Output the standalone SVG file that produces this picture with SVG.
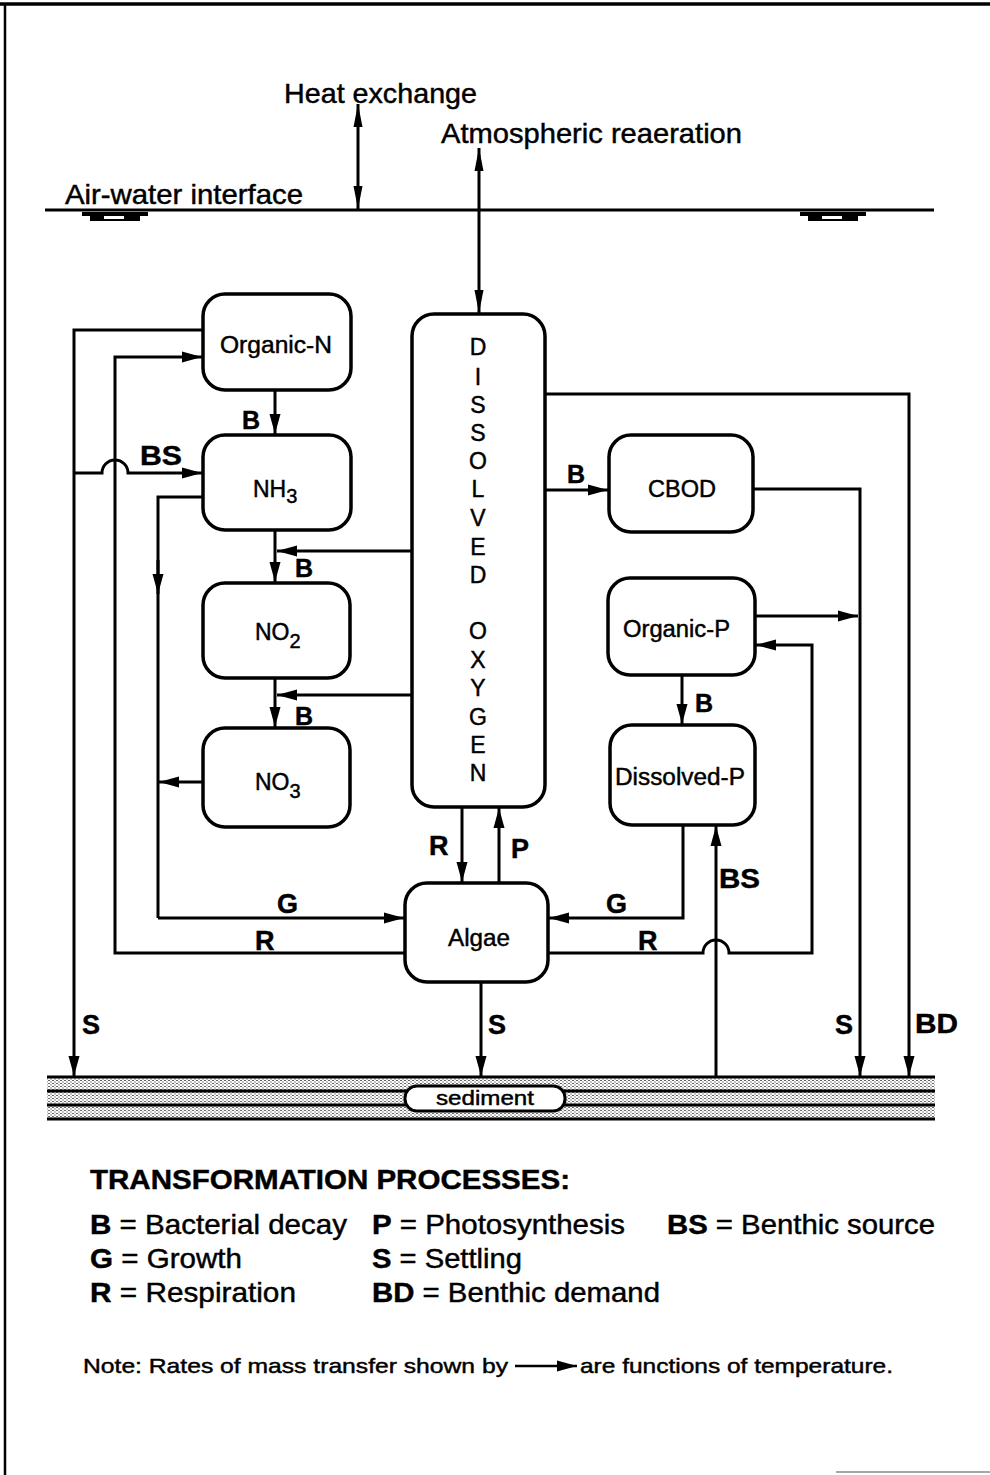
<svg xmlns="http://www.w3.org/2000/svg" width="990" height="1475" viewBox="0 0 990 1475">
<style>
.ln{stroke:#000;stroke-width:3;fill:none}
.ar{stroke:#000;stroke-width:3;fill:none;marker-end:url(#ah)}
.box{fill:#fff;stroke:#000;stroke-width:3.5}
.t{font-family:"Liberation Sans",Arial,Helvetica,sans-serif;fill:#000;stroke:#000;stroke-width:0.45}
.big{font-size:28px}
.nd{font-size:23px}
.do{font-size:23px;text-anchor:middle}
.lb{font-size:27px;font-weight:bold}
.lbs{font-size:25px;font-weight:bold}
.sed{stroke:#000;stroke-width:3.2}
</style>
<defs>
<marker id="ah" markerUnits="userSpaceOnUse" markerWidth="21" markerHeight="12" refX="20" refY="6" orient="auto">
<path d="M0,0.5 L20,6 L0,11.5 Z" fill="#000"/>
</marker>
<marker id="ahn" markerUnits="userSpaceOnUse" markerWidth="24" markerHeight="11" refX="23" refY="5" orient="auto-start-reverse">
<path d="M0,0.5 L23,5 L0,9.5 Z" fill="#000"/>
</marker>
<pattern id="stip" width="4" height="3" patternUnits="userSpaceOnUse">
<rect width="4" height="3" fill="#fff"/>
<rect x="0" y="0" width="2" height="1" fill="#666"/>
<rect x="2" y="1.5" width="2" height="1" fill="#888"/>
</pattern>
</defs>

<!-- frame -->
<g id="frame">
<line x1="0" y1="4" x2="990" y2="4" stroke="#000" stroke-width="3.5"/>
<line x1="5" y1="4" x2="5" y2="1475" stroke="#000" stroke-width="2.5"/>
<line x1="836" y1="1472" x2="990" y2="1472" stroke="#888" stroke-width="1.5"/>
</g>

<!-- surface -->
<g id="surface">
<line x1="45" y1="210" x2="934" y2="210" stroke="#000" stroke-width="3"/>
<path d="M82,212 H148 V216 H140 V221 H90 V216 H82 Z" fill="#000"/>
<rect x="104" y="216" width="20" height="3" fill="#fff"/>
<path d="M800,212 H866 V216 H858 V221 H808 V216 H800 Z" fill="#000"/>
<rect x="822" y="216" width="20" height="3" fill="#fff"/>
<text class="t big" x="65" y="204" textLength="238" lengthAdjust="spacingAndGlyphs">Air-water interface</text>
<text class="t big" x="284" y="103" textLength="193" lengthAdjust="spacingAndGlyphs">Heat exchange</text>
<text class="t big" x="441" y="143" textLength="301" lengthAdjust="spacingAndGlyphs">Atmospheric reaeration</text>
</g>

<!-- sediment -->
<g id="sediment">
<rect x="47" y="1078" width="888" height="41" fill="url(#stip)"/>
<line class="sed" x1="47" y1="1077" x2="935" y2="1077" stroke-width="3.8"/>
<line class="sed" x1="47" y1="1091" x2="935" y2="1091"/>
<line class="sed" x1="47" y1="1105" x2="935" y2="1105"/>
<line class="sed" x1="47" y1="1119" x2="935" y2="1119"/>
<rect x="405" y="1086" width="160" height="25" rx="12" fill="#fff" stroke="#000" stroke-width="3"/>
<text class="t" x="485" y="1105" font-size="20" text-anchor="middle" textLength="98" lengthAdjust="spacingAndGlyphs">sediment</text>
</g>

<!-- connectors -->
<g id="connectors">
<line x1="358" y1="104" x2="358" y2="209" class="ln" marker-start="url(#ahn)" marker-end="url(#ahn)"/>
<line x1="479" y1="148" x2="479" y2="313" class="ln" marker-start="url(#ahn)" marker-end="url(#ahn)"/>
<path class="ar" d="M203,330 H74 V1076"/>
<path class="ar" d="M405,953 H115 V357 H202"/>
<path class="ar" d="M74,473 H102 A13,13 0 0 1 128,473 H202"/>
<path class="ln" d="M203,497 H158 V918"/>
<line class="ar" x1="158" y1="560" x2="158" y2="594"/>
<path class="ar" d="M158,918 H404"/>
<line class="ar" x1="203" y1="782" x2="159" y2="782"/>
<line class="ar" x1="275" y1="390" x2="275" y2="434"/>
<line class="ar" x1="275" y1="530" x2="275" y2="582"/>
<line class="ar" x1="275" y1="678" x2="275" y2="727"/>
<line class="ar" x1="412" y1="551" x2="277" y2="551"/>
<line class="ar" x1="412" y1="695" x2="277" y2="695"/>
<line class="ar" x1="546" y1="490" x2="608" y2="490"/>
<path class="ar" d="M753,489 H860 V1076"/>
<path class="ar" d="M546,394 H909 V1076"/>
<line class="ar" x1="755" y1="616" x2="858" y2="616"/>
<path class="ar" d="M548,953 H703 A13,13 0 0 1 729,953 H812 V645 H756"/>
<path class="ar" d="M683,825 V918 H549"/>
<line class="ar" x1="716" y1="1077" x2="716" y2="826"/>
<line class="ar" x1="682" y1="675" x2="682" y2="724"/>
<line class="ar" x1="462" y1="807" x2="462" y2="882"/>
<line class="ar" x1="499" y1="883" x2="499" y2="808"/>
<line class="ar" x1="481" y1="982" x2="481" y2="1076"/>
</g>

<!-- labels -->
<g id="labels">
<text class="t lbs" x="242" y="429">B</text>
<text class="t lb" x="140" y="465" textLength="42" lengthAdjust="spacingAndGlyphs">BS</text>
<text class="t lbs" x="295" y="577">B</text>
<text class="t lbs" x="295" y="725">B</text>
<text class="t lbs" x="567" y="483">B</text>
<text class="t lbs" x="695" y="712">B</text>
<text class="t lb" x="429" y="855">R</text>
<text class="t lb" x="511" y="858">P</text>
<text class="t lb" x="277" y="913">G</text>
<text class="t lb" x="255" y="950">R</text>
<text class="t lb" x="606" y="913">G</text>
<text class="t lb" x="638" y="950">R</text>
<text class="t lb" x="719" y="888" textLength="41" lengthAdjust="spacingAndGlyphs">BS</text>
<text class="t lb" x="82" y="1034">S</text>
<text class="t lb" x="488" y="1034">S</text>
<text class="t lb" x="835" y="1034">S</text>
<text class="t lb" x="915" y="1033" textLength="43" lengthAdjust="spacingAndGlyphs">BD</text>
</g>

<!-- nodes -->
<g id="organic-n">
<rect class="box" x="203" y="294" width="148" height="96" rx="22"/>
<text class="t nd" x="220" y="353" textLength="112" lengthAdjust="spacingAndGlyphs">Organic-N</text>
</g>
<g id="nh3">
<rect class="box" x="203" y="435" width="148" height="95" rx="22"/>
<text class="t nd" x="253" y="497">NH<tspan font-size="20" dy="6">3</tspan></text>
</g>
<g id="no2">
<rect class="box" x="203" y="583" width="147" height="95" rx="22"/>
<text class="t nd" x="255" y="640">NO<tspan font-size="20" dy="8">2</tspan></text>
</g>
<g id="no3">
<rect class="box" x="203" y="728" width="147" height="99" rx="22"/>
<text class="t nd" x="255" y="790">NO<tspan font-size="20" dy="8">3</tspan></text>
</g>
<g id="dissolved-oxygen">
<rect class="box" x="412" y="314" width="133" height="493" rx="22"/>
<text class="t do" x="478" y="355">D</text>
<text class="t do" x="478" y="385">I</text>
<text class="t do" x="478" y="413">S</text>
<text class="t do" x="478" y="441">S</text>
<text class="t do" x="478" y="469">O</text>
<text class="t do" x="478" y="497">L</text>
<text class="t do" x="478" y="526">V</text>
<text class="t do" x="478" y="555">E</text>
<text class="t do" x="478" y="583">D</text>
<text class="t do" x="478" y="639">O</text>
<text class="t do" x="478" y="668">X</text>
<text class="t do" x="478" y="696">Y</text>
<text class="t do" x="478" y="725">G</text>
<text class="t do" x="478" y="753">E</text>
<text class="t do" x="478" y="781">N</text>
</g>
<g id="cbod">
<rect class="box" x="609" y="435" width="144" height="97" rx="22"/>
<text class="t nd" x="648" y="497" textLength="68" lengthAdjust="spacingAndGlyphs">CBOD</text>
</g>
<g id="organic-p">
<rect class="box" x="608" y="578" width="147" height="97" rx="22"/>
<text class="t nd" x="623" y="637" textLength="107" lengthAdjust="spacingAndGlyphs">Organic-P</text>
</g>
<g id="dissolved-p">
<rect class="box" x="610" y="725" width="145" height="100" rx="22"/>
<text class="t nd" x="615" y="785" textLength="130" lengthAdjust="spacingAndGlyphs">Dissolved-P</text>
</g>
<g id="algae">
<rect class="box" x="405" y="883" width="143" height="99" rx="22"/>
<text class="t nd" x="448" y="946" textLength="62" lengthAdjust="spacingAndGlyphs">Algae</text>
</g>

<!-- legend -->
<g id="legend">
<text class="t big" x="90" y="1189" font-weight="bold" textLength="480" lengthAdjust="spacingAndGlyphs">TRANSFORMATION PROCESSES:</text>
<text class="t big" x="90" y="1234" textLength="257" lengthAdjust="spacingAndGlyphs"><tspan font-weight="bold">B</tspan> = Bacterial decay</text>
<text class="t big" x="372" y="1234" textLength="253" lengthAdjust="spacingAndGlyphs"><tspan font-weight="bold">P</tspan> = Photosynthesis</text>
<text class="t big" x="667" y="1234" textLength="268" lengthAdjust="spacingAndGlyphs"><tspan font-weight="bold">BS</tspan> = Benthic source</text>
<text class="t big" x="90" y="1268" textLength="152" lengthAdjust="spacingAndGlyphs"><tspan font-weight="bold">G</tspan> = Growth</text>
<text class="t big" x="372" y="1268" textLength="150" lengthAdjust="spacingAndGlyphs"><tspan font-weight="bold">S</tspan> = Settling</text>
<text class="t big" x="90" y="1302" textLength="206" lengthAdjust="spacingAndGlyphs"><tspan font-weight="bold">R</tspan> = Respiration</text>
<text class="t big" x="372" y="1302" textLength="288" lengthAdjust="spacingAndGlyphs"><tspan font-weight="bold">BD</tspan> = Benthic demand</text>
<text class="t" x="83" y="1373" font-size="21" textLength="425" lengthAdjust="spacingAndGlyphs">Note: Rates of mass transfer shown by</text>
<line x1="515" y1="1366" x2="577" y2="1366" stroke="#000" stroke-width="2.5" marker-end="url(#ah)"/>
<text class="t" x="580" y="1373" font-size="21" textLength="313" lengthAdjust="spacingAndGlyphs">are functions of temperature.</text>
</g>
</svg>
